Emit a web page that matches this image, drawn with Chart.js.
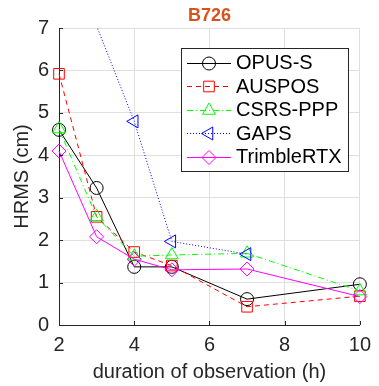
<!DOCTYPE html>
<html lang="en">
<head>
<meta charset="UTF-8">
<title>B726</title>
<script src="https://cdn.jsdelivr.net/npm/chart.js@4/dist/chart.umd.min.js"></script>
<style>
    html, body { margin: 0; padding: 0; background: #fff; }
    #wrap { width: 379px; height: 386px; }
</style>
</head>
<body>
<div id="wrap"><canvas id="chart" width="379" height="386"></canvas></div>
<script>
// values (HRMS in cm per observation length in hours)
const durations = [2, 3, 4, 5, 7, 10];
const opusS = [4.6, 3.23, 1.37, 1.37, 0.61, 0.96];
const auspos = [5.92, 2.55, 1.72, 1.4, 0.43, 0.68];
const csrsPpp = [4.62, 2.55, 1.62, 1.65, 1.69, 0.8];
const gaps = [null, 7.05, 4.8, 1.97, 1.67, null];
const trimbleRtx = [4.1, 2.08, 1.55, 1.3, 1.32, 0.67];

const seriesNames = ['OPUS-S', 'AUSPOS', 'CSRS-PPP', 'GAPS', 'TrimbleRTX'];
const xTicks = [2, 4, 6, 8, 10];
const yTicks = [0, 1, 2, 3, 4, 5, 6, 7];
const titleText = 'B726';
const xTitle = 'duration of observation (h)';
const yTitle = 'HRMS (cm)';

const FONT = 'Arial, "Liberation Sans", Helvetica, sans-serif';
const FS = 20;
const TXT = '#262626';
const GRID = '#dfdfdf';
const Y_MAX = 7;

const styles = [
    { color: '#000000', dash: [], point: 'circle', rot: 0, r: 6.5 },
    { color: '#ff0000', dash: [5, 4], point: 'rect', rot: 0, r: 7.5 },
    { color: '#00ff00', dash: [6, 3, 1, 3], point: 'triangle', rot: 0, r: 7.5 },
    { color: '#0000ff', dash: [1, 2], point: 'triangle', rot: -90, r: 7.5 },
    { color: '#ff00ff', dash: [], point: 'rectRot', rot: 0, r: 7 }
];

const allSeries = [opusS, auspos, csrsPpp, gaps, trimbleRtx];

const datasets = allSeries.map((vals, i) => {
    const s = styles[i];
    return {
        label: seriesNames[i],
        data: durations.map((d, j) => ({ x: d, y: vals[j] })),
        borderColor: s.color,
        borderWidth: 1,
        borderDash: s.dash,
        pointStyle: s.point,
        rotation: s.rot,
        pointRadius: (ctx) => {
            const v = ctx.raw && ctx.raw.y;
            return (v === null || v > Y_MAX) ? 0 : s.r;
        },
        pointBorderColor: s.color,
        pointBackgroundColor: 'rgba(0,0,0,0)',
        pointBorderWidth: 1,
        pointHoverRadius: s.r,
        fill: false,
        tension: 0,
        spanGaps: false,
        clip: { left: 12, right: 12, top: 0, bottom: 12 },
        order: allSeries.length - i
    };
});

// titles, inward ticks and the boxed legend inside the axes
const decorPlugin = {
    id: 'decor',
    afterDatasetsDraw(chart) {
        const ctx = chart.ctx;
        const area = chart.chartArea;
        const xs = chart.scales.x;
        const ys = chart.scales.y;

        ctx.save();
        // inward tick marks
        ctx.strokeStyle = TXT;
        ctx.lineWidth = 1;
        ctx.setLineDash([]);
        ctx.beginPath();
        xTicks.forEach(t => {
            const px = Math.round(xs.getPixelForValue(t)) + 0.5;
            ctx.moveTo(px, area.bottom);
            ctx.lineTo(px, area.bottom - 4);
        });
        yTicks.forEach(t => {
            const py = Math.round(ys.getPixelForValue(t)) + 0.5;
            ctx.moveTo(area.left, py);
            ctx.lineTo(area.left + 4, py);
        });
        ctx.stroke();

        // legend
        const lx = 181, ly = 48, lw = 167, lh = 123;
        ctx.fillStyle = '#ffffff';
        ctx.fillRect(lx, ly, lw, lh);
        ctx.strokeStyle = TXT;
        ctx.strokeRect(lx + 0.5, ly + 0.5, lw, lh);
        ctx.font = FS + 'px ' + FONT;
        ctx.textBaseline = 'middle';
        ctx.textAlign = 'left';
        seriesNames.forEach((name, i) => {
            const s = styles[i];
            const ry = ly + 14.5 + i * 23.6;
            ctx.strokeStyle = s.color;
            ctx.lineWidth = 1;
            ctx.setLineDash(s.dash);
            ctx.beginPath();
            ctx.moveTo(187, Math.round(ry) + 0.5);
            ctx.lineTo(231, Math.round(ry) + 0.5);
            ctx.stroke();
            ctx.setLineDash([]);
            ctx.fillStyle = 'rgba(0,0,0,0)';
            Chart.helpers.drawPoint(ctx, { pointStyle: s.point, rotation: s.rot, radius: s.r, borderWidth: 1 }, 209, Math.round(ry) + 0.5);
            ctx.fillStyle = '#000000';
            ctx.fillText(name, 236, ry + 1);
        });

        // chart title
        ctx.fillStyle = '#d95319';
        ctx.font = 'bold ' + (FS - 2) + 'px ' + FONT;
        ctx.textAlign = 'center';
        ctx.fillText(titleText, (area.left + area.right) / 2, 16);

        // axis titles
        ctx.fillStyle = TXT;
        ctx.font = FS + 'px ' + FONT;
        ctx.fillText(xTitle, (area.left + area.right) / 2, 372);
        ctx.translate(22, (area.top + area.bottom) / 2);
        ctx.rotate(-Math.PI / 2);
        ctx.fillText(yTitle, 0, 0);
        ctx.restore();
    }
};

new Chart(document.getElementById('chart').getContext('2d'), {
    type: 'line',
    data: { datasets: datasets },
    plugins: [decorPlugin],
    options: {
        responsive: false,
        animation: false,
        events: [],
        layout: { padding: { top: 28, right: 11, left: 0, bottom: 0 } },
        plugins: {
            legend: { display: false },
            title: { display: false },
            tooltip: { enabled: false }
        },
        scales: {
            x: {
                type: 'linear',
                min: 2,
                max: 10,
                afterFit: (scale) => { scale.height = 61; },
                afterBuildTicks: (scale) => { scale.ticks = xTicks.map(v => ({ value: v })); },
                ticks: {
                    color: TXT,
                    font: { family: FONT, size: FS },
                    padding: 8,
                    maxRotation: 0
                },
                grid: { color: GRID, drawTicks: false },
                border: { color: TXT, width: 1 }
            },
            y: {
                type: 'linear',
                min: 0,
                max: Y_MAX,
                afterFit: (scale) => { scale.width = 59; },
                afterBuildTicks: (scale) => { scale.ticks = yTicks.map(v => ({ value: v })); },
                ticks: {
                    color: TXT,
                    font: { family: FONT, size: FS },
                    padding: 10
                },
                grid: { color: GRID, drawTicks: false },
                border: { color: TXT, width: 1 }
            }
        }
    }
});
</script>
</body>
</html>
